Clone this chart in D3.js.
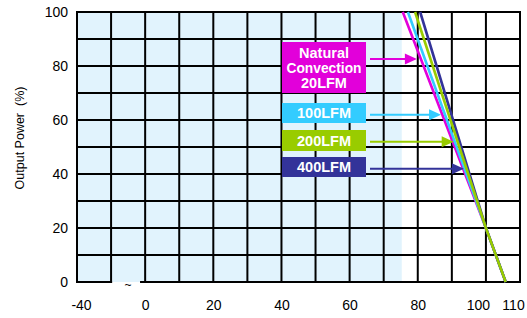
<!DOCTYPE html>
<html><head><meta charset="utf-8">
<script src="https://cdn.jsdelivr.net/npm/d3@7"></script>
<style>
html,body{margin:0;padding:0;background:#fff;}
svg{display:block;font-family:"Liberation Sans",Arial,sans-serif;}
</style></head>
<body>
<svg id="chart" width="527" height="318"></svg>
<script>
// ---- data ----
const xTickLabels = [-40, 0, 20, 40, 60, 80, 100, 110];
const yTickLabels = [0, 20, 40, 60, 80, 100];
const seriesNames = ["Natural Convection 20LFM", "100LFM", "200LFM", "400LFM"];
const seriesLabelLines = [["Natural", "Convection", "20LFM"], ["100LFM"], ["200LFM"], ["400LFM"]];
const seriesColors = ["#E200DA", "#33CCFF", "#99CC00", "#333399"];
// derating curves: [temperature °C, output power %]
const curveNatural = [[75.6, 100], [100, 20], [105.8, 0]];
const curve100 = [[77.1, 100], [100, 20], [105.8, 0]];
const curve200 = [[79.2, 100], [100, 20], [105.8, 0]];
const curve400 = [[80.7, 100], [100, 20], [105.8, 0]];
const curves = [curveNatural, curve100, curve200, curve400];
const shadedUpTo = 75.3;          // light-blue region upper temperature
const arrowPower = [82.6, 61.9, 51.9, 41.9]; // output power where arrows point

// ---- layout ----
const svg = d3.select("#chart");
const L = 77, R = 520, T = 12, B = 282;
// broken axis: -40 is drawn one cell left of the gap
const brk = v => (v <= -40 ? -20 : v);
const x = d3.scaleLinear().domain([-20, 110]).range([L, R]);
const y = d3.scaleLinear().domain([0, 100]).range([B, T]);

// background shading
svg.append("rect").attr("x", x(-20)).attr("y", y(100))
  .attr("width", x(shadedUpTo) - x(-20)).attr("height", y(0) - y(100))
  .attr("fill", "#E1F3FD");

// grid
const grid = svg.append("g").attr("stroke", "#000").attr("stroke-width", 2);
d3.range(-20, 111, 10).forEach(v => {
  grid.append("line").attr("x1", x(v)).attr("x2", x(v)).attr("y1", y(0) + 1).attr("y2", y(100) - 1);
});
d3.range(10, 101, 10).forEach(v => {
  grid.append("line").attr("x1", x(-20) - 1).attr("x2", x(110) + 1).attr("y1", y(v)).attr("y2", y(v));
});
// bottom axis line with break gap
grid.append("line").attr("x1", x(-20) - 1).attr("x2", x(-10) + 1).attr("y1", y(0)).attr("y2", y(0));
grid.append("line").attr("x1", x(-1.5)).attr("x2", x(110) + 1).attr("y1", y(0)).attr("y2", y(0));
svg.append("text").attr("x", x(-5)).attr("y", y(0) + 7).attr("text-anchor", "middle")
  .attr("font-size", 12).attr("fill", "#000").text("~");

// curves
const line = d3.line().x(d => x(d[0])).y(d => y(d[1]));
const order = [0, 1, 3, 2];
order.forEach(i => {
  svg.append("path").datum(curves[i]).attr("d", line)
    .attr("fill", "none").attr("stroke", seriesColors[i]).attr("stroke-width", 2.6);
});

// x axis labels
const xAxis = d3.axisBottom(x).tickValues(xTickLabels.map(brk)).tickSize(0)
  .tickFormat((d, i) => xTickLabels[i]);
const gx = svg.append("g").attr("transform", `translate(0,${B})`).call(xAxis);
gx.select(".domain").remove();
gx.selectAll("text").attr("font-size", 14).attr("fill", "#000")
  .attr("font-family", "Liberation Sans, Arial, sans-serif").attr("y", 0).attr("dy", 28)
  .attr("dx", (d, i) => xTickLabels[i] === -40 ? 4 : xTickLabels[i] === 100 ? -8 : xTickLabels[i] === 110 ? -7 : 0);

// y axis labels
const yAxis = d3.axisLeft(y).tickValues(yTickLabels).tickSize(0).tickPadding(9);
const gy = svg.append("g").attr("transform", `translate(${L},0)`).call(yAxis);
gy.select(".domain").remove();
gy.selectAll("text").attr("font-size", 14).attr("fill", "#000")
  .attr("font-family", "Liberation Sans, Arial, sans-serif");

// y title
svg.append("text").attr("transform", `translate(24,138) rotate(-90)`)
  .attr("text-anchor", "middle").attr("font-size", 12.5).attr("fill", "#000")
  .attr("xml:space", "preserve").text("Output Power  (%)");

// legend boxes + arrows
const boxes = [
  {y0: 42, h: 51}, {y0: 103, h: 20}, {y0: 130, h: 21}, {y0: 157, h: 20}
];
const boxX = 282, boxW = 84;
function curveXAt(c, p) {
  for (let k = 0; k < c.length - 1; k++) {
    const a = c[k], b = c[k + 1];
    if (p <= a[1] && p >= b[1]) return a[0] + (b[0] - a[0]) * (p - a[1]) / (b[1] - a[1]);
  }
  return c[0][0];
}
seriesNames.forEach((name, i) => {
  const b = boxes[i];
  svg.append("rect").attr("x", boxX).attr("y", b.y0).attr("width", boxW).attr("height", b.h)
    .attr("fill", seriesColors[i]);
  const lines = seriesLabelLines[i];
  const t = svg.append("text").attr("text-anchor", "middle").attr("fill", "#fff")
    .attr("font-weight", "bold").attr("font-size", 14.5);
  lines.forEach((s, k) => {
    const ts = t.append("tspan").attr("x", boxX + boxW / 2)
      .attr("y", lines.length > 1 ? b.y0 + 16.3 + k * 15 : b.y0 + b.h / 2 + 5.3).text(s);
    if (s === "Convection") ts.attr("textLength", 75).attr("lengthAdjust", "spacingAndGlyphs");
  });
  const ay = y(arrowPower[i]);
  const tip = x(curveXAt(curves[i], arrowPower[i])) - 4;
  svg.append("line").attr("x1", 370).attr("x2", tip - 10).attr("y1", ay).attr("y2", ay)
    .attr("stroke", seriesColors[i]).attr("stroke-width", 2);
  svg.append("path").attr("d", `M${tip},${ay} L${tip - 12},${ay - 5.5} L${tip - 12},${ay + 5.5} Z`)
    .attr("fill", seriesColors[i]);
});
</script>
</body></html>
